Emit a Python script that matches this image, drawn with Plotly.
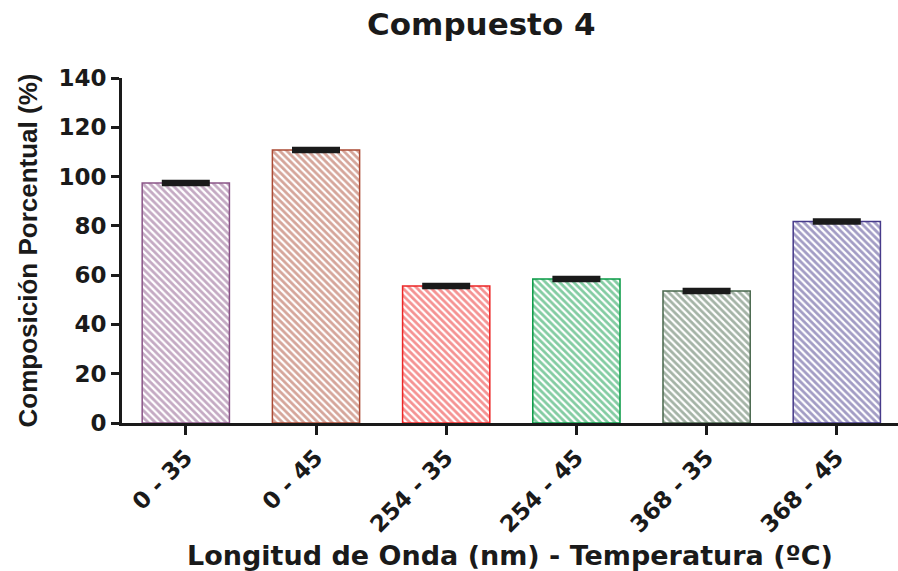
import plotly.graph_objects as go

categories = ["0 - 35", "0 - 45", "254 - 35", "254 - 45", "368 - 35", "368 - 45"]
values = [97.4, 110.8, 55.6, 58.4, 53.6, 81.8]
errors = [0.5, 0.5, 0.5, 0.5, 0.5, 0.5]
colors = ["#8a5588", "#ab4b35", "#ec2626", "#089a45", "#4a684e", "#463a8a"]

wide_font = "DejaVu Sans, Arial, sans-serif"
arial = "Liberation Sans, Arial, sans-serif"
ink = "#1a1a1a"

fig = go.Figure()
fig.add_trace(go.Bar(
    x=categories,
    y=values,
    marker=dict(
        color="white",
        line=dict(color=colors, width=1.5),
        pattern=dict(shape="\\", fgcolor=colors, bgcolor="white", size=5, solidity=0.55),
    ),
    error_y=dict(type="data", array=errors, visible=True, color=ink, thickness=4, width=24),
    showlegend=False,
))

fig.update_layout(
    width=898, height=571,
    margin=dict(l=122, r=0, t=78, b=148),
    paper_bgcolor="white", plot_bgcolor="white",
    bargap=0.33,
    title=dict(text="<b>Compuesto 4</b>", x=0.536, xanchor="center", y=0.958, yanchor="middle",
               font=dict(family=wide_font, size=31, color=ink)),
    font=dict(family=wide_font, color=ink),
)
fig.update_xaxes(
    range=[-0.49, 5.47],
    showline=True, linecolor=ink, linewidth=3,
    ticks="outside", ticklen=9, tickwidth=3, tickcolor=ink,
    tickangle=-45,
    tickfont=dict(family=wide_font, size=23, weight="bold", color=ink),
    title=dict(text="<b>Longitud de Onda (nm) - Temperatura (ºC)</b>", standoff=10,
               font=dict(family=wide_font, size=27, color=ink)),
    showgrid=False, zeroline=False,
)
fig.update_yaxes(
    range=[0, 140], tickvals=[0, 20, 40, 60, 80, 100, 120, 140],
    showline=True, linecolor=ink, linewidth=3,
    ticks="outside", ticklen=8, tickwidth=3, tickcolor=ink,
    tickfont=dict(family=wide_font, size=23, weight="bold", color=ink),
    title=dict(text="<b>Composición Porcentual (%)</b>", standoff=14,
               font=dict(family=arial, size=26, color=ink)),
    showgrid=False, zeroline=False,
)

fig.write_html("out.html")
